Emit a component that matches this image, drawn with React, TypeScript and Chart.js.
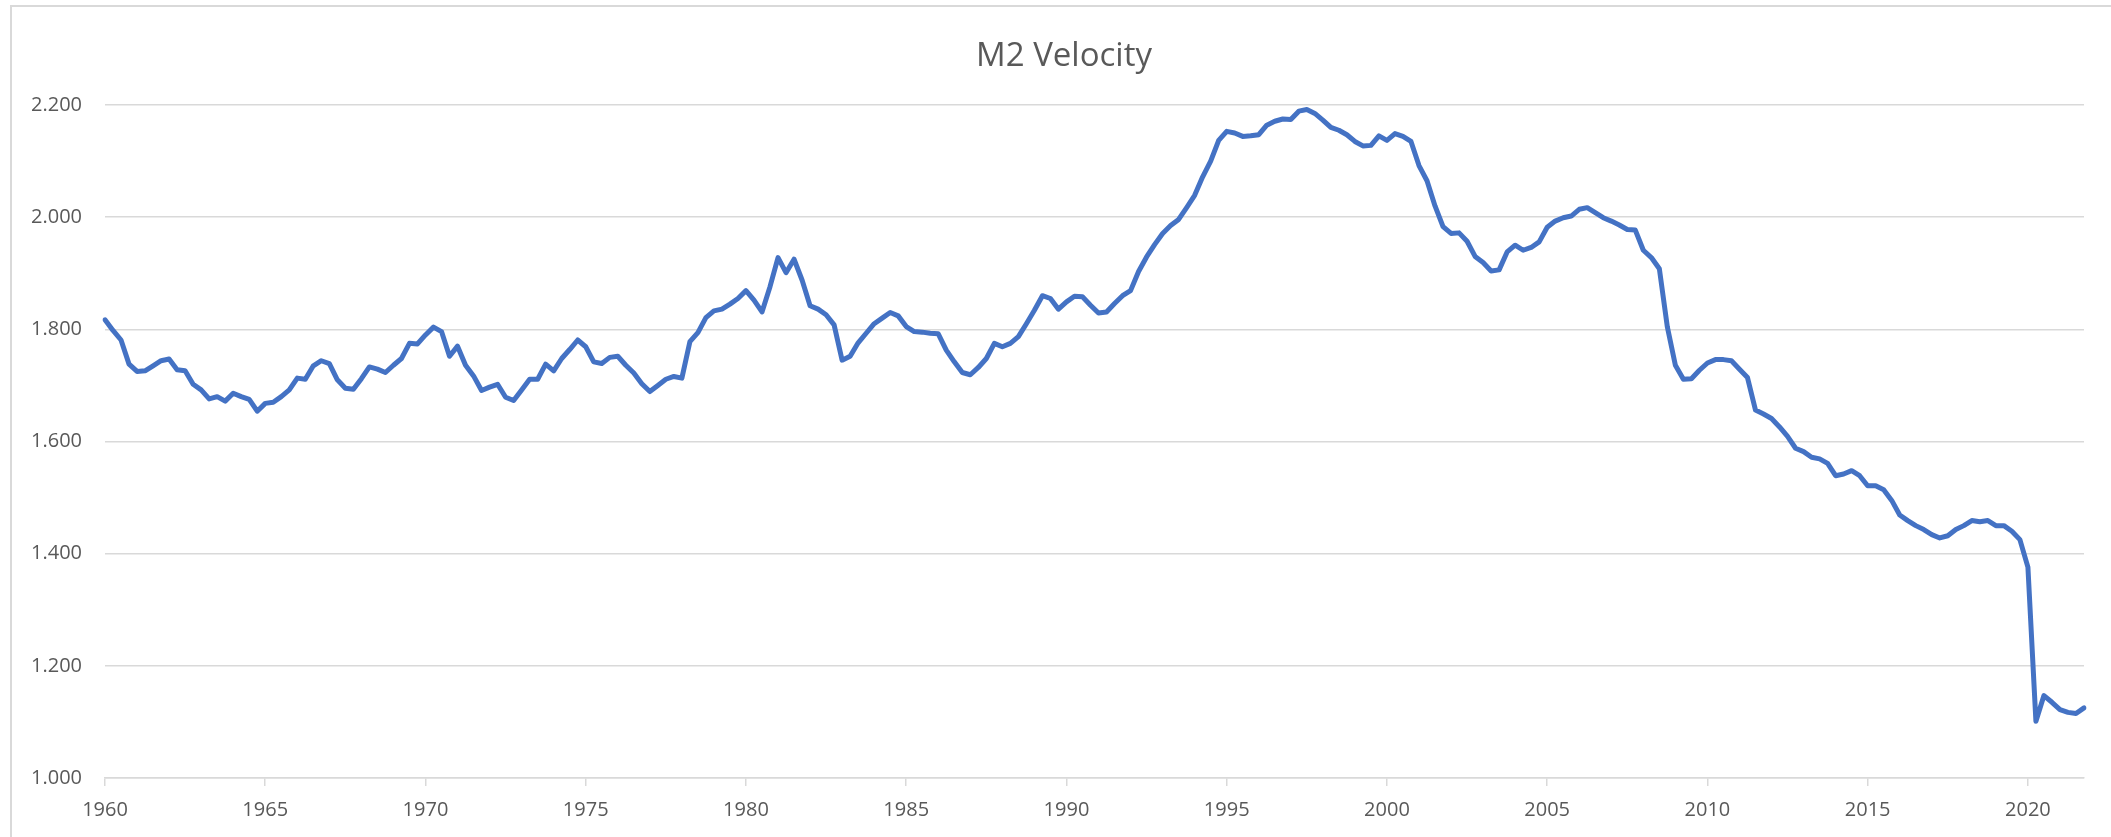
import React, { useEffect, useRef } from 'react';
import { Chart, registerables } from 'chart.js';

Chart.register(...registerables);

// ---- data ----
const TITLE = 'M2 Velocity';
const START_YEAR = 1960;
const tickYears = ['1960', '1965', '1970', '1975', '1980', '1985', '1990', '1995', '2000', '2005', '2010', '2015', '2020'];
const yTickValues = [1.0, 1.2, 1.4, 1.6, 1.8, 2.0, 2.2];

// M2 velocity, quarterly, 1960 Q1 .. 2021 Q4 (one row per year)
const velocity = [
  1.817, 1.798, 1.781, 1.738,
  1.725, 1.726, 1.735, 1.744,
  1.747, 1.728, 1.726, 1.702,
  1.692, 1.676, 1.680, 1.672,
  1.686, 1.680, 1.675, 1.654,
  1.668, 1.670, 1.680, 1.692,
  1.713, 1.711, 1.735, 1.744,
  1.739, 1.710, 1.695, 1.693,
  1.712, 1.733, 1.729, 1.723,
  1.736, 1.748, 1.775, 1.774,
  1.790, 1.804, 1.796, 1.752,
  1.770, 1.736, 1.717, 1.691,
  1.697, 1.702, 1.679, 1.673,
  1.692, 1.711, 1.711, 1.738,
  1.726, 1.748, 1.764, 1.781,
  1.769, 1.742, 1.739, 1.750,
  1.752, 1.736, 1.722, 1.703,
  1.689, 1.700, 1.711, 1.716,
  1.713, 1.778, 1.794, 1.821,
  1.833, 1.836, 1.845, 1.855,
  1.869, 1.852, 1.831, 1.876,
  1.928, 1.901, 1.925, 1.888,
  1.842, 1.836, 1.826, 1.808,
  1.745, 1.752, 1.776, 1.793,
  1.810, 1.820, 1.830, 1.824,
  1.805, 1.796, 1.795, 1.793,
  1.792, 1.763, 1.742, 1.723,
  1.719, 1.732, 1.748, 1.775,
  1.769, 1.775, 1.787, 1.810,
  1.834, 1.860, 1.855, 1.836,
  1.849, 1.859, 1.858, 1.843,
  1.829, 1.831, 1.846, 1.860,
  1.869, 1.903, 1.929, 1.951,
  1.971, 1.985, 1.996, 2.017,
  2.039, 2.072, 2.100, 2.137,
  2.153, 2.150, 2.144, 2.145,
  2.147, 2.164, 2.171, 2.175,
  2.174, 2.189, 2.192, 2.185,
  2.173, 2.160, 2.155, 2.147,
  2.135, 2.127, 2.128, 2.145,
  2.137, 2.149, 2.144, 2.135,
  2.092, 2.065, 2.020, 1.983,
  1.971, 1.972, 1.957, 1.930,
  1.919, 1.904, 1.906, 1.938,
  1.950, 1.941, 1.946, 1.956,
  1.982, 1.993, 1.999, 2.002,
  2.014, 2.017, 2.008, 1.999,
  1.993, 1.986, 1.978, 1.977,
  1.941, 1.928, 1.908, 1.804,
  1.736, 1.711, 1.712, 1.727,
  1.740, 1.746, 1.746, 1.744,
  1.729, 1.714, 1.656, 1.649,
  1.641, 1.626, 1.609, 1.588,
  1.582, 1.572, 1.569, 1.561,
  1.539, 1.542, 1.548, 1.539,
  1.521, 1.521, 1.514, 1.495,
  1.469, 1.459, 1.450, 1.443,
  1.434, 1.428, 1.432, 1.443,
  1.450, 1.459, 1.457, 1.459,
  1.450, 1.450, 1.440, 1.425,
  1.376, 1.101, 1.147, 1.135,
  1.122, 1.117, 1.115, 1.125,
];

const quarters: string[] = velocity.map(
  (_, i) => `${START_YEAR + Math.floor(i / 4)} Q${(i % 4) + 1}`
);

const FONT = "'Open Sans', 'Noto Sans', sans-serif";
const TEXT = '#595959';
const GRID = '#d9d9d9';

export default function App() {
  const canvasRef = useRef<HTMLCanvasElement | null>(null);

  useEffect(() => {
    const canvas = canvasRef.current;
    if (!canvas) return;
    const chart = new Chart(canvas, {
      type: 'line',
      data: {
        labels: quarters,
        datasets: [
          {
            label: TITLE,
            data: velocity,
            borderColor: '#4472C4',
            borderWidth: 5,
            pointRadius: 0,
            tension: 0,
            fill: false,
            borderJoinStyle: 'round',
            borderCapStyle: 'round',
          },
        ],
      },
      options: {
        animation: false,
        responsive: false,
        maintainAspectRatio: false,
        events: [],
        layout: { padding: { left: 0, right: 27, top: 105, bottom: 0 } },
        plugins: {
          legend: { display: false },
          tooltip: { enabled: false },
          title: { display: false },
        },
        scales: {
          x: {
            type: 'category',
            offset: false,
            grid: {
              display: true,
              drawOnChartArea: false,
              drawTicks: true,
              tickLength: 8,
              color: GRID,
              lineWidth: 1.5,
            },
            border: { display: true, color: GRID, width: 1.5 },
            ticks: {
              autoSkip: false,
              maxRotation: 0,
              minRotation: 0,
              padding: 12,
              color: TEXT,
              font: { family: FONT, size: 20 },
              callback: (_v: any, index: number) =>
                index % 20 === 0 ? tickYears[index / 20] : null,
            },
            afterFit: (scale: any) => {
              scale.height = 59;
            },
          },
          y: {
            min: yTickValues[0],
            max: yTickValues[yTickValues.length - 1],
            grid: { color: GRID, lineWidth: 1.5, drawTicks: false },
            border: { display: false },
            ticks: {
              stepSize: 0.2,
              padding: 23,
              color: TEXT,
              font: { family: FONT, size: 20 },
              callback: (v: any) => Number(v).toFixed(3),
            },
            afterFit: (scale: any) => {
              scale.width = 105;
            },
          },
        },
      },
    });
    return () => chart.destroy();
  }, []);

  return (
    <div
      style={{
        position: 'absolute',
        left: 0,
        top: 0,
        width: 2111,
        height: 837,
        overflow: 'hidden',
        background: '#ffffff',
      }}
    >
      <div
        style={{
          position: 'absolute',
          left: 10,
          top: 5,
          width: 2200,
          height: 900,
          border: `2px solid ${GRID}`,
          boxSizing: 'border-box',
        }}
      />
      <canvas
        ref={canvasRef}
        width={2111}
        height={837}
        style={{ position: 'absolute', left: 0, top: 0, width: 2111, height: 837 }}
      />
      <div
        style={{
          position: 'absolute',
          left: 0,
          top: 34,
          width: 2128,
          textAlign: 'center',
          fontFamily: FONT,
          fontSize: 33,
          lineHeight: '40px',
          color: TEXT,
          whiteSpace: 'nowrap',
        }}
      >
        {TITLE}
      </div>
    </div>
  );
}
